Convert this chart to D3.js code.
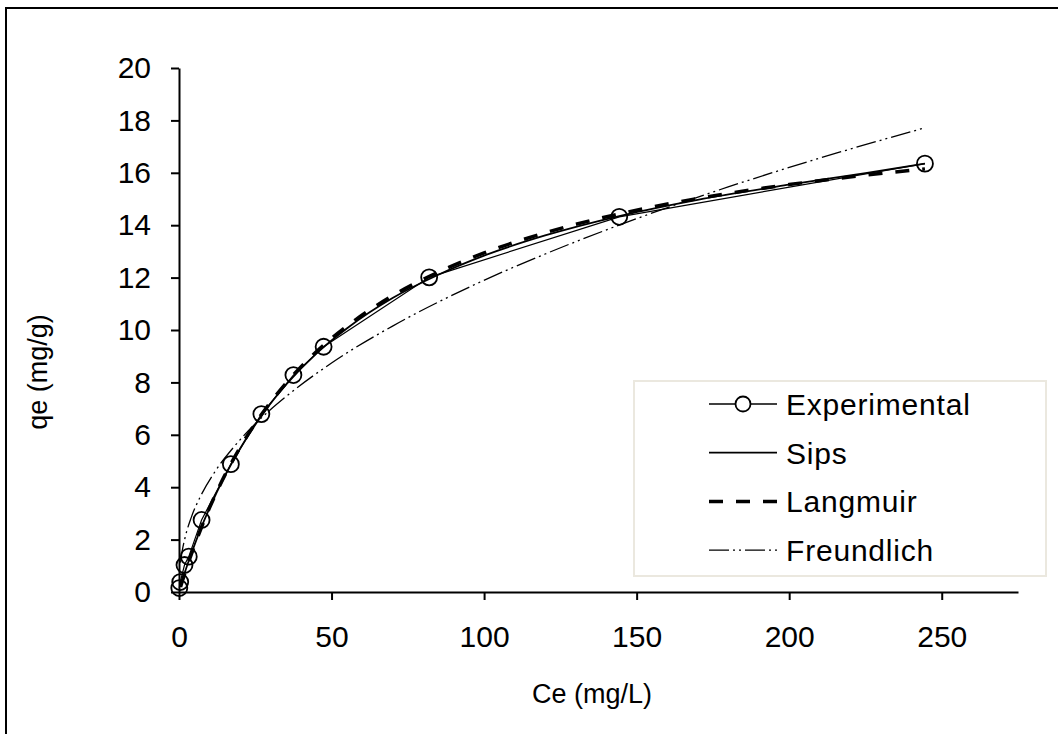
<!DOCTYPE html>
<html>
<head>
<meta charset="utf-8">
<script src="https://cdn.jsdelivr.net/npm/d3@7"></script>
<style>
  body { margin: 0; background: #fff; }
  svg { display: block; font-family: "Liberation Sans", Arial, sans-serif; }
</style>
</head>
<body>
<svg id="chart"></svg>
<script>
// experimental points
const expCe = [0.1, 0.4, 1.8, 3.2, 7.4, 17.0, 27.0, 37.5, 47.4, 82.0, 144.3, 244.5];
const expQe = [0.15, 0.38, 1.03, 1.35, 2.75, 4.88, 6.79, 8.28, 9.36, 12.01, 14.32, 16.35];

// fitted curves
const fitCe = [0.5, 1, 2, 3.5, 5, 7.5, 10, 15, 20, 27.5, 35, 45, 55, 70, 85, 100, 120, 145, 170, 200, 225, 244.5];
const sipsQe = [0.22, 0.41, 0.78, 1.29, 1.77, 2.52, 3.20, 4.42, 5.47, 6.80, 7.90, 9.10, 10.06, 11.22, 12.11, 12.84, 13.61, 14.37, 14.97, 15.55, 15.99, 16.35];
const langmuirQe = [0.19, 0.38, 0.74, 1.26, 1.75, 2.51, 3.21, 4.45, 5.51, 6.85, 7.96, 9.17, 10.14, 11.31, 12.21, 12.94, 13.71, 14.45, 15.02, 15.55, 15.91, 16.15];

const freundCe = [0.5, 1, 2, 4, 7, 12, 18, 25, 35, 50, 70, 95, 120, 150, 180, 210, 244];
const freundQe = [1.12, 1.53, 2.08, 2.84, 3.64, 4.63, 5.54, 6.42, 7.45, 8.74, 10.15, 11.63, 12.90, 14.25, 15.46, 16.56, 17.70];

const xTicks = [0, 50, 100, 150, 200, 250];
const yTicks = [0, 2, 4, 6, 8, 10, 12, 14, 16, 18, 20];

const legendItems = ["Experimental", "Sips", "Langmuir", "Freundlich"];

const width = 1058, height = 734;
const svg = d3.select("#chart").attr("width", width).attr("height", height);

// outer frame
svg.append("rect")
  .attr("x", 6).attr("y", 8)
  .attr("width", 1070).attr("height", 740)
  .attr("fill", "none").attr("stroke", "#000").attr("stroke-width", 2);

const x = d3.scaleLinear().domain([0, 275]).range([179, 1018]);
const y = d3.scaleLinear().domain([0, 20]).range([592, 68]);

// axes
const xAxis = svg.append("g")
  .attr("transform", "translate(0,592)")
  .call(d3.axisBottom(x).tickValues(xTicks).tickSize(8).tickPadding(26).tickSizeOuter(0));
const yAxis = svg.append("g")
  .attr("transform", "translate(179,0)")
  .call(d3.axisLeft(y).tickValues(yTicks).tickSize(8).tickPadding(20).tickSizeOuter(0));

[xAxis, yAxis].forEach(g => {
  g.select(".domain").attr("stroke-width", 2);
  g.selectAll(".tick line").attr("stroke-width", 2);
  g.selectAll("text").attr("font-size", 30).attr("fill", "#000")
    .attr("font-family", "'Liberation Sans', Arial, sans-serif");
});

// axis titles
svg.append("text")
  .attr("x", 592).attr("y", 703)
  .attr("text-anchor", "middle")
  .attr("font-size", 27)
  .text("Ce (mg/L)");

svg.append("text")
  .attr("transform", "translate(47,372) rotate(-90)")
  .attr("text-anchor", "middle")
  .attr("font-size", 27)
  .text("qe (mg/g)");

// curves
const line = d3.line().x(d => x(d[0])).y(d => y(d[1])).curve(d3.curveMonotoneX);

svg.append("path")
  .datum(d3.zip(freundCe, freundQe))
  .attr("d", line)
  .attr("fill", "none").attr("stroke", "#000").attr("stroke-width", 1.3)
  .attr("stroke-dasharray", "20,4,2,4,2,4");

svg.append("path")
  .datum(d3.zip(fitCe, langmuirQe))
  .attr("d", line)
  .attr("fill", "none").attr("stroke", "#000").attr("stroke-width", 3.5)
  .attr("stroke-dasharray", "14,13");

svg.append("path")
  .datum(d3.zip(fitCe, sipsQe))
  .attr("d", line)
  .attr("fill", "none").attr("stroke", "#000").attr("stroke-width", 1.8);

const expData = d3.zip(expCe, expQe);
svg.append("path")
  .datum(expData)
  .attr("d", d3.line().x(d => x(d[0])).y(d => y(d[1])))
  .attr("fill", "none").attr("stroke", "#000").attr("stroke-width", 1.2);

svg.selectAll("circle.exp")
  .data(expData)
  .enter()
  .append("circle")
  .attr("class", "exp")
  .attr("cx", d => x(d[0]))
  .attr("cy", d => y(d[1]))
  .attr("r", 8)
  .attr("fill", "none").attr("stroke", "#000").attr("stroke-width", 1.8);

// legend
const legend = svg.append("g");
legend.append("rect")
  .attr("x", 634).attr("y", 381)
  .attr("width", 412).attr("height", 195)
  .attr("fill", "#fff").attr("stroke", "#ebe8df").attr("stroke-width", 2);

const styles = [
  { w: 1.5, dash: null },
  { w: 1.8, dash: null },
  { w: 3.5, dash: "14,13" },
  { w: 1.3, dash: "20,4,2,4,2,4" }
];

legendItems.forEach((name, i) => {
  const ly = 404 + i * 48.7;
  legend.append("line")
    .attr("x1", 709).attr("x2", 777)
    .attr("y1", ly).attr("y2", ly)
    .attr("stroke", "#000").attr("stroke-width", styles[i].w)
    .attr("stroke-dasharray", styles[i].dash);
  if (i === 0) {
    legend.append("circle")
      .attr("cx", 743).attr("cy", ly).attr("r", 7.5)
      .attr("fill", "#fff").attr("stroke", "#000").attr("stroke-width", 1.8);
  }
  legend.append("text")
    .attr("x", 786).attr("y", ly + 11)
    .attr("font-size", 30)
    .attr("letter-spacing", 0.8)
    .text(name);
});
</script>
</body>
</html>
